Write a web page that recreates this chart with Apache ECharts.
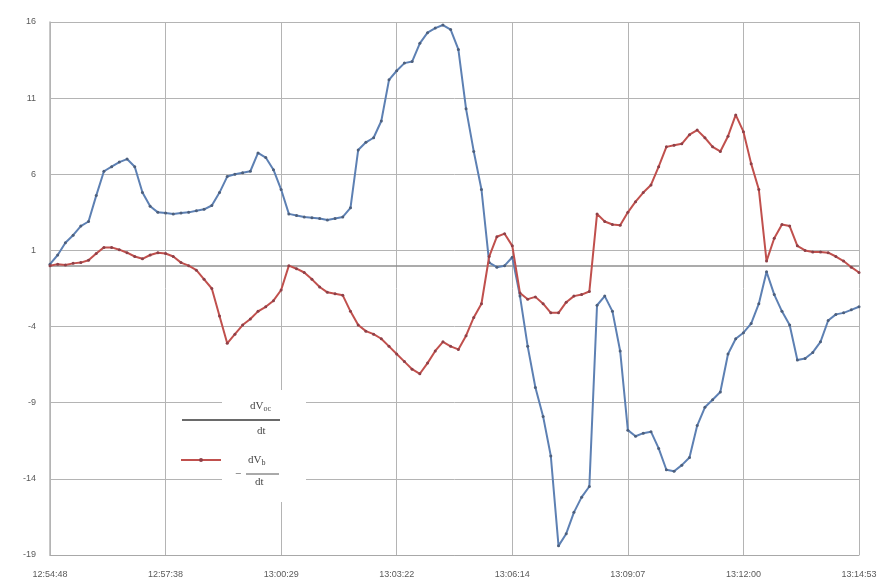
<!DOCTYPE html>
<html>
<head>
<meta charset="utf-8">
<script src="https://cdn.jsdelivr.net/npm/echarts@6/dist/echarts.min.js"></script>
<style>
  html, body { margin: 0; padding: 0; background: #fff; }
  #chart { width: 891px; height: 587px; }
</style>
</head>
<body>
<div id="chart"></div>
<script>
// Time labels shown every 15 samples along the category axis
const tickLabels = ['12:54:48', '12:57:38', '13:00:29', '13:03:22', '13:06:14', '13:09:07', '13:12:00', '13:14:53'];
const labelStep = 15;

// dV_oc/dt (blue)
const dVocDt = [
  0.1, 0.7, 1.5, 2.0, 2.6, 2.9, 4.6, 6.2, 6.5, 6.8,
  7.0, 6.5, 4.8, 3.9, 3.5, 3.45, 3.4, 3.45, 3.5, 3.6,
  3.7, 3.95, 4.8, 5.85, 6.0, 6.1, 6.2, 7.4, 7.1, 6.3,
  5.0, 3.4, 3.3, 3.2, 3.15, 3.1, 3.0, 3.1, 3.2, 3.8,
  7.6, 8.1, 8.4, 9.5, 12.2, 12.8, 13.3, 13.4, 14.6, 15.3,
  15.6, 15.8, 15.5, 14.2, 10.3, 7.5, 5.0, 0.2, -0.1, 0.0,
  0.55, -2.0, -5.3, -8.0, -9.9, -12.5, -18.4, -17.6, -16.2, -15.2,
  -14.5, -2.6, -2.0, -3.0, -5.6, -10.8, -11.2, -11.0, -10.9, -12.0,
  -13.4, -13.5, -13.1, -12.6, -10.5, -9.3, -8.8, -8.3, -5.8, -4.8,
  -4.4, -3.8, -2.5, -0.4, -1.9, -3.0, -3.9, -6.2, -6.1, -5.7,
  -5.0, -3.6, -3.2, -3.1, -2.9, -2.7
];

// -dV_b/dt (red)
const dVbDt = [
  0.0, 0.1, 0.05, 0.15, 0.2, 0.35, 0.8, 1.2, 1.2, 1.05,
  0.85, 0.6, 0.45, 0.7, 0.85, 0.8, 0.6, 0.2, 0.0, -0.3,
  -0.9, -1.5, -3.3, -5.1, -4.5, -3.9, -3.5, -3.0, -2.7, -2.3,
  -1.6, 0.0, -0.2, -0.45, -0.9, -1.4, -1.75, -1.85, -1.95, -3.0,
  -3.9, -4.3, -4.5, -4.8, -5.3, -5.8, -6.3, -6.8, -7.1, -6.4,
  -5.6, -5.0, -5.3, -5.5, -4.6, -3.4, -2.5, 0.6, 1.9, 2.1,
  1.3, -1.8, -2.2, -2.05, -2.5, -3.1, -3.1, -2.4, -2.0, -1.9,
  -1.7, 3.4, 2.9, 2.7, 2.65, 3.5, 4.2, 4.8, 5.3, 6.5,
  7.8, 7.9, 8.0, 8.6, 8.9, 8.4, 7.8, 7.5, 8.5, 9.9,
  8.8, 6.7, 5.0, 0.3, 1.8, 2.7, 2.6, 1.3, 1.0, 0.9,
  0.9, 0.85, 0.6, 0.3, -0.1, -0.45
];

const categories = dVocDt.map((_, i) => i);

const chart = echarts.init(document.getElementById('chart'), null, { renderer: 'canvas' });

const labelFont = { fontFamily: 'Liberation Sans', fontSize: 9, color: '#5a5a5a' };

chart.setOption({
  animation: false,
  backgroundColor: '#ffffff',
  grid: { left: 50, right: 32, top: 22, bottom: 32, containLabel: false },
  xAxis: {
    type: 'category',
    data: categories,
    boundaryGap: false,
    axisLine: { show: true, onZero: false, lineStyle: { color: '#a8a8a8', width: 1 } },
    axisTick: { show: false },
    axisLabel: Object.assign({
      interval: labelStep - 1,
      margin: 15,
      formatter: (v) => tickLabels[Math.round(Number(v) / labelStep)] || ''
    }, labelFont),
    splitLine: { show: true, interval: labelStep - 1, lineStyle: { color: '#b4b4b4', width: 1 } }
  },
  yAxis: {
    type: 'value',
    min: -19,
    max: 16,
    interval: 5,
    axisLine: { show: true, lineStyle: { color: '#b4b4b4', width: 1.5 } },
    axisTick: { show: false },
    axisLabel: Object.assign({ margin: 14 }, labelFont),
    splitLine: { show: true, lineStyle: { color: '#b4b4b4', width: 1 } }
  },
  series: [
    {
      name: 'dVoc/dt',
      type: 'line',
      data: dVocDt,
      showAllSymbol: true,
      symbol: 'circle',
      symbolSize: 3,
      lineStyle: { color: '#5d80b3', width: 2 },
      itemStyle: { color: '#4d5f7c' },
      z: 3,
      markLine: {
        silent: true,
        symbol: 'none',
        label: { show: false },
        lineStyle: { color: '#8f8f8f', width: 1.5, type: 'solid' },
        data: [{ yAxis: 0 }],
        z: 1
      }
    },
    {
      name: '-dVb/dt',
      type: 'line',
      data: dVbDt,
      showAllSymbol: true,
      symbol: 'circle',
      symbolSize: 3,
      lineStyle: { color: '#c0504d', width: 2 },
      itemStyle: { color: '#8e4048' },
      z: 4
    }
  ],
  graphic: [
    { type: 'rect', shape: { x: 222, y: 390, width: 84, height: 112 }, style: { fill: '#ffffff' }, z: 10 },
    // first entry: dV_oc / dt
    { type: 'line', shape: { x1: 182, y1: 420, x2: 280, y2: 420 }, style: { stroke: '#6a6a6a', lineWidth: 2 }, z: 11 },
    { type: 'text', x: 250, y: 399, z: 11, style: {
        text: '{a|dV}{s|oc}',
        rich: {
          a: { fontFamily: 'Liberation Serif', fontSize: 11, fill: '#444' },
          s: { fontFamily: 'Liberation Serif', fontSize: 8, fill: '#444', padding: [6, 0, 0, 0] }
        }
      } },
    { type: 'text', x: 257, y: 426, z: 11, style: { text: 'dt', fontFamily: 'Liberation Serif', fontSize: 11, fill: '#444' } },
    // second entry: -dV_b / dt
    { type: 'line', shape: { x1: 181, y1: 460, x2: 221, y2: 460 }, style: { stroke: '#c0504d', lineWidth: 2 }, z: 11 },
    { type: 'circle', shape: { cx: 201, cy: 460, r: 2 }, style: { fill: '#8e4048' }, z: 12 },
    { type: 'text', x: 248, y: 453, z: 11, style: {
        text: '{a|dV}{s|b}',
        rich: {
          a: { fontFamily: 'Liberation Serif', fontSize: 11, fill: '#444' },
          s: { fontFamily: 'Liberation Serif', fontSize: 8, fill: '#444', padding: [6, 0, 0, 0] }
        }
      } },
    { type: 'line', shape: { x1: 246, y1: 474, x2: 279, y2: 474 }, style: { stroke: '#555', lineWidth: 1 }, z: 11 },
    { type: 'text', x: 235, y: 469, z: 11, style: { text: '−', fontFamily: 'Liberation Serif', fontSize: 11, fill: '#444' } },
    { type: 'text', x: 255, y: 477, z: 11, style: { text: 'dt', fontFamily: 'Liberation Serif', fontSize: 11, fill: '#444' } }
  ]
});
</script>
</body>
</html>
